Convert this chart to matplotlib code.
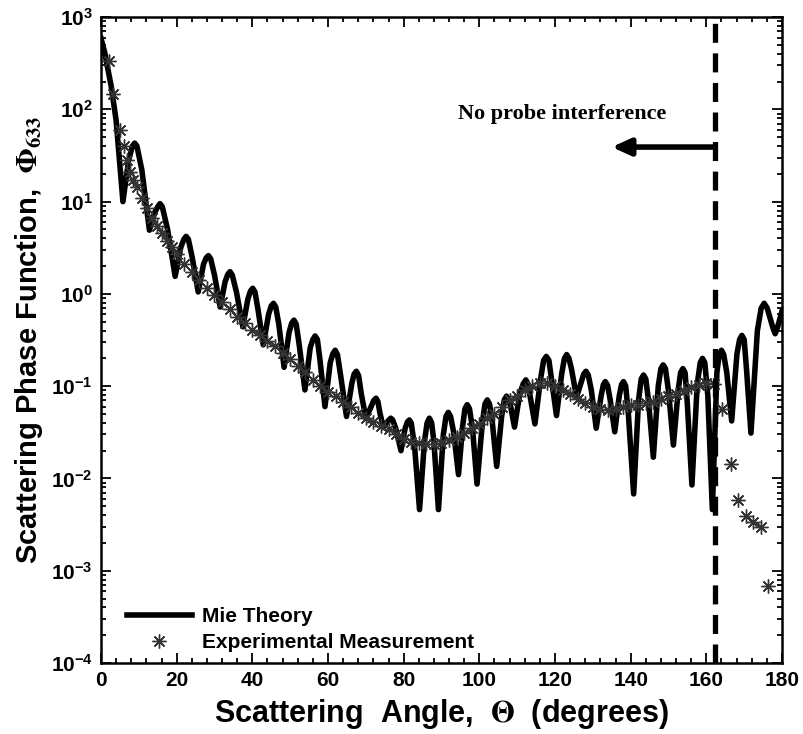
import numpy as np
import matplotlib
matplotlib.use('Agg')
import matplotlib.pyplot as plt
from matplotlib.ticker import MultipleLocator, LogLocator, NullFormatter

plt.rcParams['font.family'] = ['Liberation Sans', 'DejaVu Sans']
plt.rcParams['font.weight'] = 'bold'
plt.rcParams['mathtext.fontset'] = 'stix'

# Mie theory curve (angle in degrees, phase function)
mie_angle = [0.0, 1.0, 2.7, 4.0, 4.9, 5.8,
             7.3, 8.3, 8.9, 9.5, 10.8, 12.8,
             14.2, 15.0, 15.6, 16.2, 17.6, 19.6,
             21.1, 21.9, 22.5, 23.1, 24.1, 25.7,
             27.1, 27.8, 28.4, 29.0, 30.0, 31.5,
             32.8, 33.5, 34.1, 34.7, 35.8, 37.5,
             38.8, 39.5, 40.1, 40.7, 41.5, 42.9,
             44.3, 45.0, 45.6, 46.2, 47.0, 48.4,
             49.7, 50.4, 51.0, 51.6, 52.4, 53.9,
             55.3, 56.0, 56.6, 57.2, 57.9, 59.2,
             60.6, 61.3, 61.9, 62.5, 63.4, 64.9,
             66.3, 66.9, 67.5, 68.1, 68.8, 70.0,
             71.4, 72.1, 72.7, 73.2, 73.7, 74.6,
             75.5, 76.1, 76.6, 77.1, 77.9, 79.3,
             80.4, 81.0, 81.5, 82.0, 82.9, 84.2,
             85.5, 86.2, 86.8, 87.4, 88.0, 89.2,
             90.5, 91.2, 91.8, 92.4, 93.2, 94.5,
             95.6, 96.2, 96.8, 97.4, 98.2, 99.4,
             100.8, 101.5, 102.1, 102.7, 103.4, 104.6,
             105.9, 106.6, 107.2, 107.8, 108.3, 109.3,
             110.7, 111.6, 112.3, 112.9, 113.4, 114.7,
             116.2, 117.0, 117.7, 118.4, 119.0, 120.4,
             121.8, 122.5, 123.1, 123.7, 124.4, 125.7,
             127.0, 127.6, 128.2, 128.8, 129.6, 130.9,
             132.2, 132.8, 133.3, 133.9, 134.6, 135.8,
             137.0, 137.6, 138.1, 138.7, 139.4, 140.8,
             142.1, 142.8, 143.4, 144.0, 144.7, 146.0,
             147.3, 148.0, 148.6, 149.2, 150.0, 151.3,
             152.6, 153.2, 153.8, 154.4, 155.0, 156.2,
             157.6, 158.4, 159.0, 159.6, 160.4, 161.6,
             162.8, 163.4, 164.0, 164.6, 165.4, 166.7,
             168.1, 168.8, 169.4, 170.0, 170.6, 171.8,
             173.5, 174.5, 175.3, 176.1, 176.8, 177.6,
             178.2, 178.8, 179.4, 180.0]
mie_value = [590, 410, 178, 76, 28, 10,
             28, 40, 43, 40, 22, 4.9,
             7.6, 8.8, 9.5, 8.8, 5.0, 1.55,
             3.2, 3.9, 4.2, 3.9, 2.5, 1.05,
             2.1, 2.45, 2.6, 2.4, 1.6, 0.72,
             1.35, 1.62, 1.74, 1.6, 1.05, 0.44,
             0.87, 1.07, 1.15, 1.05, 0.68, 0.28,
             0.60, 0.74, 0.79, 0.72, 0.47, 0.16,
             0.38, 0.48, 0.52, 0.47, 0.28, 0.091,
             0.26, 0.32, 0.35, 0.32, 0.19, 0.060,
             0.18, 0.225, 0.245, 0.22, 0.126, 0.047,
             0.107, 0.135, 0.145, 0.13, 0.083, 0.045,
             0.060, 0.070, 0.074, 0.068, 0.052, 0.036,
             0.040, 0.043, 0.045, 0.043, 0.035, 0.020,
             0.035, 0.041, 0.043, 0.040, 0.022, 0.0046,
             0.025, 0.040, 0.045, 0.040, 0.025, 0.0046,
             0.030, 0.047, 0.052, 0.047, 0.032, 0.011,
             0.037, 0.057, 0.063, 0.057, 0.035, 0.0087,
             0.040, 0.064, 0.071, 0.064, 0.042, 0.0135,
             0.047, 0.071, 0.078, 0.071, 0.060, 0.036,
             0.083, 0.106, 0.117, 0.105, 0.079, 0.039,
             0.12, 0.19, 0.21, 0.19, 0.126, 0.048,
             0.138, 0.20, 0.22, 0.20, 0.151, 0.076,
             0.112, 0.135, 0.145, 0.132, 0.091, 0.035,
             0.079, 0.104, 0.112, 0.102, 0.071, 0.032,
             0.079, 0.104, 0.112, 0.10, 0.050, 0.0068,
             0.071, 0.12, 0.132, 0.12, 0.071, 0.017,
             0.10, 0.155, 0.17, 0.155, 0.089, 0.023,
             0.093, 0.14, 0.155, 0.14, 0.063, 0.0085,
             0.105, 0.18, 0.20, 0.18, 0.079, 0.0046,
             0.141, 0.22, 0.245, 0.22, 0.141, 0.042,
             0.224, 0.32, 0.355, 0.32, 0.158, 0.031,
             0.40, 0.70, 0.79, 0.70, 0.56, 0.43,
             0.37, 0.43, 0.53, 0.65]

# Experimental measurement
exp_angle = [2.0, 3.3, 4.9, 6.1, 7.0, 7.7, 8.5, 9.4, 10.8, 12.1, 13.4, 14.7, 16.0, 17.4,
             18.7, 20, 22, 24, 26, 28, 30, 32, 34, 36, 38, 40, 42, 44, 46, 48, 50, 52,
             54, 56, 58, 60, 62, 64, 66, 68, 70, 72, 74, 76, 78, 80, 82, 84, 86, 88,
             90, 92, 94, 96, 98, 100, 102, 104, 106, 108, 110, 112, 114, 116, 118, 120,
             122, 124, 126, 128, 130, 132, 134, 136, 138, 140, 142, 144, 146, 148, 150,
             152, 154, 156, 158, 160, 162, 164.2, 166.4, 168.5, 170.4, 172.3, 174.4, 176.4]
exp_value = [330, 145, 60, 40, 28, 21, 17, 14.5, 11, 8.5, 6.6, 5.4, 4.6, 3.7,
             3.2, 2.7, 2.1, 1.74, 1.41, 1.17, 0.98, 0.81, 0.68, 0.56, 0.48, 0.41, 0.355, 0.31,
             0.27, 0.23, 0.195, 0.166, 0.141, 0.117, 0.100, 0.087, 0.078, 0.068, 0.059, 0.051,
             0.045, 0.041, 0.037, 0.034, 0.030, 0.027, 0.025, 0.024, 0.0234, 0.0234,
             0.0245, 0.026, 0.028, 0.031, 0.035, 0.039, 0.045, 0.050, 0.059, 0.071,
             0.079, 0.091, 0.100, 0.107, 0.107, 0.100, 0.091, 0.083, 0.072, 0.065,
             0.059, 0.056, 0.055, 0.056, 0.059, 0.062, 0.063, 0.065, 0.068, 0.072, 0.078,
             0.083, 0.089, 0.098, 0.102, 0.107, 0.105, 0.056, 0.0145, 0.0059, 0.0039,
             0.0034, 0.0030, 0.00068]

probe_angle = 162.3

fig = plt.figure(figsize=(8.04, 7.34), dpi=100)
ax = fig.add_axes([0.1256, 0.0967, 0.847, 0.8801])

ax.plot(mie_angle, mie_value, color='black', linewidth=4.0, solid_joinstyle='round',
        label='Mie Theory', zorder=3)
ax.plot(exp_angle, exp_value, linestyle='none', marker=(8, 2, 0), markersize=10,
        markeredgewidth=1.0, color='0.2', label='Experimental Measurement', zorder=4)

ax.axvline(probe_angle, color='black', linewidth=3.8, dashes=(3.6, 2.0), zorder=5)
ax.annotate('', xy=(135, 39), xytext=(probe_angle, 39),
            arrowprops=dict(arrowstyle='-|>,head_length=1.1,head_width=0.5',
                            color='black', lw=4.0, shrinkA=0, shrinkB=0))
ax.text(122, 88, 'No probe interference', ha='center', va='center',
        family='Liberation Serif', fontweight='bold', fontsize=16)

ax.set_yscale('log')
ax.set_xlim(0, 180)
ax.set_ylim(1e-4, 1e3)
ax.xaxis.set_major_locator(MultipleLocator(20))
ax.xaxis.set_minor_locator(MultipleLocator(4))
ax.yaxis.set_major_locator(LogLocator(base=10, numticks=20))
ax.yaxis.set_minor_locator(LogLocator(base=10, subs=np.arange(2, 10), numticks=20))
ax.yaxis.set_minor_formatter(NullFormatter())
ax.tick_params(which='both', direction='in', top=True, right=True, width=1.3)
ax.tick_params(which='major', length=7, labelsize=15, pad=6)
ax.tick_params(which='minor', length=3.5)
for s in ax.spines.values():
    s.set_linewidth(1.8)

ax.set_xlabel(r'Scattering  Angle,  $\Theta$  (degrees)', fontsize=22, fontweight='bold', labelpad=5)
ax.set_ylabel(r'Scattering Phase Function,  $\Phi_{633}$', fontsize=21, fontweight='bold', labelpad=4)

leg = ax.legend(loc='lower left', bbox_to_anchor=(0.026, 0.0035), borderaxespad=0,
                frameon=False, fontsize=15, handlelength=3.1, borderpad=0.4,
                labelspacing=0.35, handletextpad=0.5)
for t in leg.get_texts():
    t.set_fontweight('bold')

fig.savefig('out.png', dpi=100)
